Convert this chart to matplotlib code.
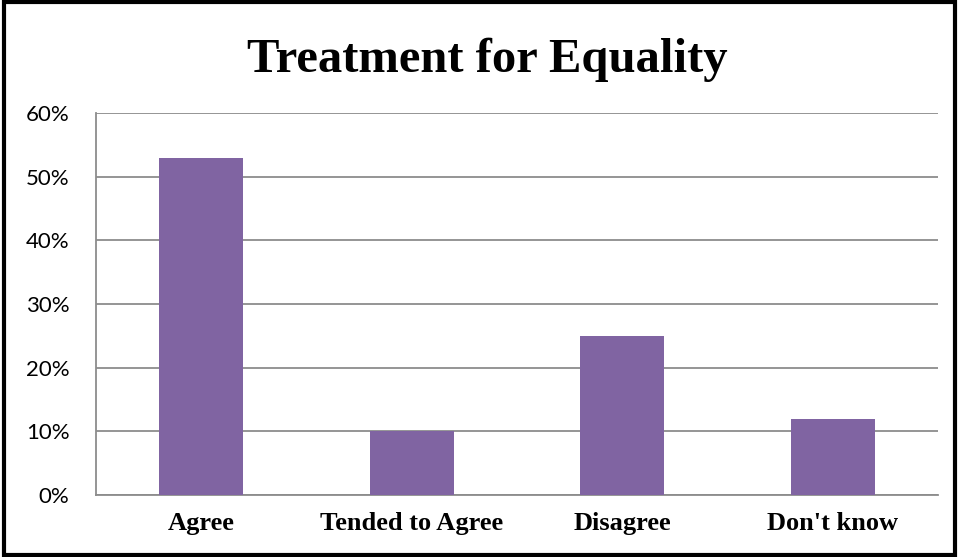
import matplotlib.pyplot as plt
from matplotlib.patches import Rectangle

# Survey responses (share of respondents)
categories = ["Agree", "Tended to Agree", "Disagree", "Don't know"]
shares = [0.53, 0.10, 0.25, 0.12]
y_ticks = [0.0, 0.1, 0.2, 0.3, 0.4, 0.5, 0.6]
y_labels = ["0%", "10%", "20%", "30%", "40%", "50%", "60%"]

fig = plt.figure(figsize=(9.59, 5.57), dpi=100)
ax = fig.add_axes([0.1001, 0.1113, 0.8779, 0.6857])

ax.bar(range(len(categories)), shares, width=0.4, color="#8064A2",
       zorder=3)

ax.set_xlim(-0.5, len(categories) - 0.5)
ax.set_ylim(0, 0.6)
ax.set_yticks(y_ticks)
ax.set_yticklabels(y_labels, fontfamily="Lato", fontsize=16)
ax.set_xticks(range(len(categories)))
ax.set_xticklabels(categories, fontfamily="Liberation Serif",
                   fontweight="bold", fontsize=19)
ax.tick_params(axis="y", length=0, pad=19)
ax.tick_params(axis="x", length=0, pad=12)

ax.yaxis.grid(True, color="#8c8c8c", linewidth=1.3, zorder=0)
for side in ("top", "right"):
    ax.spines[side].set_visible(False)
for side in ("left", "bottom"):
    ax.spines[side].set_color("#8c8c8c")
    ax.spines[side].set_linewidth(1.3)

fig.text(0.508, 0.893, "Treatment for Equality", ha="center", va="center",
         fontfamily="Liberation Serif", fontweight="bold", fontsize=35)

# black frame round the whole chart
fig.patches.append(Rectangle((0.004, 0.004), 0.992, 0.992,
                             transform=fig.transFigure, fill=False,
                             edgecolor="black", linewidth=3))

plt.savefig("out.png", dpi=100)
